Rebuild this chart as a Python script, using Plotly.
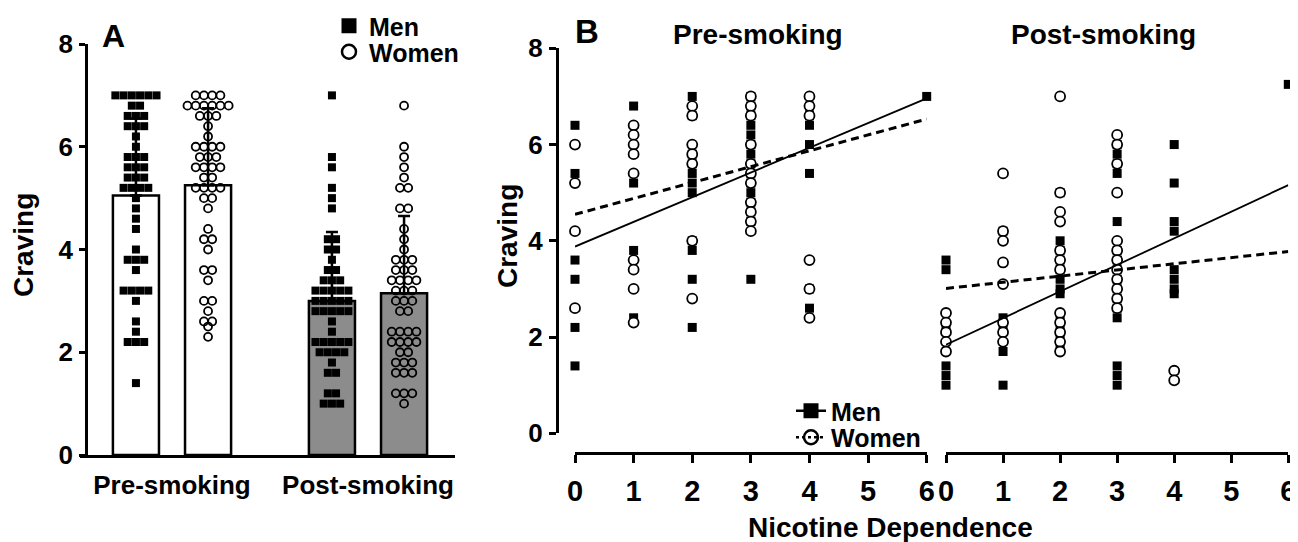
import plotly.graph_objects as go

W, H = 1298, 542          # browser window
PAGE_PAD = 8              # default body margin of the html page
FONT = "Liberation Sans, Arial, sans-serif"
NARROW = "Liberation Sans Narrow, Arial Narrow, Liberation Sans, Arial, sans-serif"

# ---------------- Panel A data ----------------
phases = ["Pre-smoking", "Post-smoking"]
men_mean = [5.05, 3.00]
women_mean = [5.25, 3.15]
men_sd = [1.50, 1.34]
women_sd = [1.50, 1.50]

pre_men_levels = [7.0, 6.8, 6.6, 6.4, 6.2, 6.0, 5.8, 5.6, 5.4, 5.2, 5.0, 4.8, 4.6, 4.4, 4.0, 3.8, 3.6, 3.2, 3.0, 2.6, 2.4, 2.2, 1.4]
pre_men_counts = [6, 2, 3, 3, 1, 1, 3, 3, 3, 4, 1, 1, 1, 1, 1, 3, 1, 4, 1, 1, 1, 3, 1]

pre_women_levels = [7.0, 6.8, 6.6, 6.4, 6.2, 6.0, 5.8, 5.6, 5.4, 5.2, 5.0, 4.8, 4.4, 4.2, 4.0, 3.6, 3.4, 3.0, 2.8, 2.6, 2.5, 2.3]
pre_women_counts = [4, 6, 3, 1, 1, 4, 3, 4, 2, 4, 2, 1, 1, 2, 1, 2, 1, 2, 1, 2, 1, 1]

post_men_levels = [7.0, 5.8, 5.6, 5.2, 5.0, 4.8, 4.2, 4.0, 3.8, 3.6, 3.4, 3.2, 3.0, 2.8, 2.6, 2.4, 2.2, 2.0, 1.8, 1.6, 1.2, 1.0]
post_men_counts = [1, 1, 1, 1, 1, 1, 2, 2, 1, 2, 3, 5, 5, 5, 1, 1, 5, 4, 1, 2, 2, 3]

post_women_levels = [6.8, 6.0, 5.8, 5.6, 5.4, 5.2, 4.8, 4.4, 4.2, 4.0, 3.8, 3.6, 3.4, 3.2, 3.0, 2.8, 2.4, 2.2, 2.0, 1.8, 1.6, 1.2, 1.0]
post_women_counts = [1, 1, 1, 1, 1, 2, 2, 1, 1, 1, 3, 3, 4, 3, 3, 2, 4, 4, 2, 3, 3, 3, 1]

# ---------------- Panel B data ----------------
pre_men_nd = [0]*6 + [1]*4 + [2]*11 + [3]*15 + [4]*7 + [6]
pre_men_crav = [6.4, 5.4, 3.6, 3.2, 2.2, 1.4,
                6.8, 5.2, 3.8, 2.4,
                7.0, 6.6, 5.8, 5.6, 5.4, 5.2, 5.0, 4.0, 3.8, 3.2, 2.2,
                7.0, 6.8, 6.6, 6.4, 6.2, 6.0, 5.8, 5.6, 5.4, 5.2, 5.0, 4.8, 4.6, 4.4, 3.2,
                6.8, 6.6, 6.4, 6.0, 5.4, 3.0, 2.6,
                7.0]
pre_women_nd = [0]*4 + [1]*9 + [2]*7 + [3]*11 + [4]*6
pre_women_crav = [6.0, 5.2, 4.2, 2.6,
                  6.4, 6.2, 6.0, 5.8, 5.4, 3.6, 3.4, 3.0, 2.3,
                  6.8, 6.6, 6.0, 5.8, 5.6, 4.0, 2.8,
                  7.0, 6.8, 6.6, 6.0, 5.6, 5.4, 5.2, 4.8, 4.6, 4.4, 4.2,
                  7.0, 6.8, 6.6, 3.6, 3.0, 2.4]

post_men_nd = [0]*6 + [1]*5 + [2]*12 + [3]*16 + [4]*8 + [6]
post_men_crav = [3.6, 3.4, 2.2, 1.4, 1.2, 1.0,
                 4.2, 2.4, 2.2, 1.7, 1.0,
                 5.0, 4.0, 3.8, 3.6, 3.4, 3.2, 3.0, 2.9, 2.4, 2.2, 2.0, 1.8,
                 6.0, 5.8, 5.6, 5.4, 4.4, 3.8, 3.6, 3.4, 3.2, 3.0, 2.8, 2.6, 2.4, 1.4, 1.2, 1.0,
                 6.0, 5.2, 4.4, 4.2, 3.4, 3.2, 3.0, 2.9,
                 7.25]
post_women_nd = [0]*5 + [1]*8 + [2]*12 + [3]*12 + [4]*2
post_women_crav = [2.5, 2.3, 2.1, 1.9, 1.7,
                   5.4, 4.2, 4.0, 3.55, 3.1, 2.3, 2.1, 1.9,
                   7.0, 5.0, 4.6, 4.4, 3.8, 3.6, 3.4, 2.5, 2.3, 2.1, 1.9, 1.7,
                   6.2, 6.0, 5.6, 5.0, 4.0, 3.8, 3.6, 3.4, 3.2, 3.0, 2.8, 2.6,
                   1.3, 1.1]

# regression fits (intercept, slope)
fit_pre_men = (3.88, 0.513)
fit_pre_women = (4.55, 0.330)
fit_post_men = (1.84, 0.553)
fit_post_women = (3.01, 0.128)
nd_ticks = [0, 1, 2, 3, 4, 5, 6]


def px(v):
    return (v - PAGE_PAD) / W


def py(v):
    return 1 - (v - PAGE_PAD) / H


def bold(size, family=FONT):
    return dict(family=family, size=size, color="black", weight="bold")


# Panel A geometry (axis units)
OFF = 0.184
BAR_W = 0.235
DOT_STEP = 0.042


def dots(levels, counts, center):
    xs, ys = [], []
    for lv, n in zip(levels, counts):
        for i in range(n):
            xs.append(center + (i - (n - 1) / 2) * DOT_STEP)
            ys.append(lv)
    return xs, ys


fig = go.Figure()
fills = ["white", "#8c8c8c"]

for means, sds, sign in [(men_mean, men_sd, -1), (women_mean, women_sd, 1)]:
    fig.add_trace(go.Bar(
        x=[i + sign * OFF for i in range(len(phases))], y=means, width=BAR_W,
        marker=dict(color=fills, line=dict(color="black", width=2.5)),
        error_y=dict(type="data", array=sds, arrayminus=[0] * len(sds), symmetric=False,
                     thickness=2.5, width=6, color="black"),
        showlegend=False, xaxis="x", yaxis="y"))

for (lv, ct, i) in [(pre_men_levels, pre_men_counts, 0), (post_men_levels, post_men_counts, 1)]:
    xs, ys = dots(lv, ct, i - OFF)
    fig.add_trace(go.Scatter(x=xs, y=ys, mode="markers", cliponaxis=False,
                             marker=dict(symbol="square", size=8, color="black", line=dict(width=0)),
                             showlegend=False, xaxis="x", yaxis="y"))
for (lv, ct, i) in [(pre_women_levels, pre_women_counts, 0), (post_women_levels, post_women_counts, 1)]:
    xs, ys = dots(lv, ct, i + OFF)
    fig.add_trace(go.Scatter(x=xs, y=ys, mode="markers", cliponaxis=False,
                             marker=dict(symbol="circle-open", size=8, color="black", line=dict(width=1.8)),
                             showlegend=False, xaxis="x", yaxis="y"))

# Panel B
for (xs_m, ys_m, xs_w, ys_w, fm, fw, xa, ya) in [
        (pre_men_nd, pre_men_crav, pre_women_nd, pre_women_crav, fit_pre_men, fit_pre_women, "x2", "y2"),
        (post_men_nd, post_men_crav, post_women_nd, post_women_crav, fit_post_men, fit_post_women, "x3", "y3")]:
    fig.add_trace(go.Scatter(x=xs_m, y=ys_m, mode="markers", cliponaxis=False,
                             marker=dict(symbol="square", size=9, color="black", line=dict(width=0)),
                             showlegend=False, xaxis=xa, yaxis=ya))
    fig.add_trace(go.Scatter(x=xs_w, y=ys_w, mode="markers", cliponaxis=False,
                             marker=dict(symbol="circle", size=10, color="white", line=dict(width=1.8, color="black")),
                             showlegend=False, xaxis=xa, yaxis=ya))
    xl = [nd_ticks[0], nd_ticks[-1]]
    fig.add_trace(go.Scatter(x=xl, y=[fm[0] + fm[1] * v for v in xl], mode="lines", cliponaxis=False,
                             line=dict(color="black", width=1.8), showlegend=False, xaxis=xa, yaxis=ya))
    fig.add_trace(go.Scatter(x=xl, y=[fw[0] + fw[1] * v for v in xl], mode="lines", cliponaxis=False,
                             line=dict(color="black", width=3, dash="8px,5px"), showlegend=False, xaxis=xa, yaxis=ya))

# legend-only entries
fig.add_trace(go.Scatter(x=[None], y=[None], mode="markers", name="Men", legend="legend",
                         marker=dict(symbol="square", size=15, color="black")))
fig.add_trace(go.Scatter(x=[None], y=[None], mode="markers", name="Women", legend="legend2",
                         marker=dict(symbol="circle-open", size=14, color="black", line=dict(width=2.5))))
fig.add_trace(go.Scatter(x=[None], y=[None], mode="lines+markers", name="Men", legend="legend3",
                         line=dict(color="black", width=2.5),
                         marker=dict(symbol="square", size=15, color="black")))
fig.add_trace(go.Scatter(x=[None], y=[None], mode="lines+markers", name="Women", legend="legend4",
                         line=dict(color="black", width=2.5, dash="dot"),
                         marker=dict(symbol="circle-open", size=14, color="black", line=dict(width=2.5))))


def leg(xp, yp):
    return dict(x=px(xp), y=py(yp), xanchor="left", yanchor="middle", font=bold(25),
                bgcolor="rgba(0,0,0,0)", borderwidth=0, itemsizing="trace")


AX = dict(showgrid=False, zeroline=False, showline=True, linecolor="black", linewidth=2.5,
          tickcolor="black", tickwidth=2.5, tickfont=bold(26), automargin=False,
          ticklabeloverflow="allow")

fig.update_layout(
    width=W, height=H, margin=dict(l=0, r=0, t=0, b=0, autoexpand=False),
    paper_bgcolor="white", plot_bgcolor="white", barmode="overlay",
    xaxis=dict(AX, domain=[px(80), px(455)], range=[(80 - 172) / 196, (455 - 172) / 196],
               tickvals=list(range(len(phases))), ticktext=phases, ticks="", anchor="y",
               tickfont=bold(26), ticklabelstandoff=5),
    yaxis=dict(AX, domain=[py(455), py(44)], range=[0, 8], tickvals=[0, 2, 4, 6, 8],
               ticks="outside", ticklen=6, anchor="free", position=px(86), ticklabelstandoff=1),
    xaxis2=dict(AX, domain=[px(575), px(926.7)], range=[0, 6], tickvals=nd_ticks,
                ticks="outside", ticklen=8, anchor="free", position=py(453), ticklabelstandoff=3,
                tickfont=bold(29, NARROW)),
    yaxis2=dict(AX, domain=[py(433.3), py(48.3)], range=[0, 8], tickvals=[0, 2, 4, 6, 8],
                ticks="outside", ticklen=7, anchor="free", position=px(556.7), ticklabelstandoff=1),
    xaxis3=dict(AX, domain=[px(946), px(1288.3)], range=[0, 6], tickvals=nd_ticks,
                ticks="outside", ticklen=8, anchor="free", position=py(453), ticklabelstandoff=3,
                tickfont=bold(29, NARROW)),
    yaxis3=dict(domain=[py(433.3), py(48.3)], range=[0, 8], visible=False, anchor="x3"),
    legend=leg(329, 26), legend2=leg(329, 52), legend3=leg(791, 411), legend4=leg(791, 437.5),
    annotations=[
        dict(text="A", x=px(114), y=py(36), font=bold(32)),
        dict(text="B", x=px(587), y=py(32), font=bold(33)),
        dict(text="Craving", x=px(24), y=py(245), textangle=-90, font=bold(28)),
        dict(text="Craving", x=px(507), y=py(236), textangle=-90, font=bold(28)),
        dict(text="Pre-smoking", x=px(758), y=py(35), font=bold(28)),
        dict(text="Post-smoking", x=px(1103), y=py(35), font=bold(28)),
        dict(text="Nicotine Dependence", x=px(890), y=py(527), font=bold(28)),
    ],
)
for a in fig.layout.annotations:
    a.update(xref="paper", yref="paper", showarrow=False, xanchor="center", yanchor="middle")

fig.write_html("out.html")
